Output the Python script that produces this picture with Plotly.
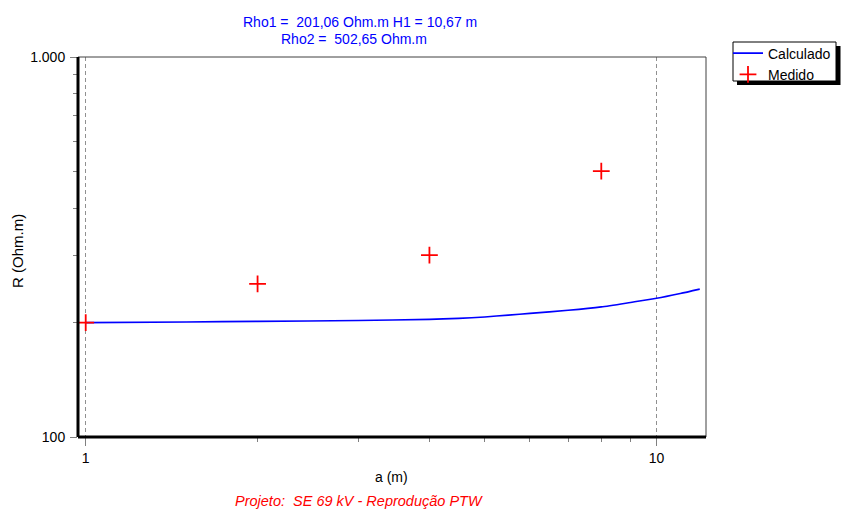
import plotly.graph_objects as go

# ---- data ----
a_calc = [1, 1.5, 2, 3, 4, 4.5, 5, 5.5, 6, 7, 8, 9, 10, 11, 11.9]
r_calc = [200, 200.8, 201.5, 202.5, 204, 205.2, 207, 209.3, 211.5, 215.5, 220, 226, 231.7, 238.5, 245]
a_med = [1, 2, 4, 8]
r_med = [200, 253, 301, 501]
x_tickvals = [1, 10]
x_ticktext = ["1", "10"]
y_tickvals = [100, 1000]
y_ticktext = ["100", "1.000"]
x_minor = [2, 3, 4, 5, 6, 7, 8, 9]
y_minor = [200, 300, 400, 500, 600, 700, 800, 900]

FONT = "Liberation Sans, Arial, sans-serif"
FS = 14

# plot area in pixels
L, R, T, B = 78, 706, 57, 437
W, H = 859, 525
pw, ph = R - L, B - T


def px(x):
    return (x - L) / pw


def py(y):
    return (B - y) / ph


fig = go.Figure()
fig.add_trace(go.Scatter(
    x=a_calc, y=r_calc, mode="lines", name="Calculado",
    line=dict(color="#0000ff", width=1.6, shape="spline", smoothing=0.6),
))
fig.add_trace(go.Scatter(
    x=a_med, y=r_med, mode="markers", name="Medido",
    marker=dict(symbol="cross-thin", size=12, line=dict(color="#ff0000", width=1.8), color="#ff0000"),
))

fig.update_layout(
    width=W, height=H,
    margin=dict(l=L, r=W - R, t=T, b=H - B, pad=0),
    paper_bgcolor="white", plot_bgcolor="white",
    font=dict(family=FONT, size=FS, color="#000000"),
    showlegend=True,
    legend=dict(
        x=px(728), y=py(37.5), xanchor="left", yanchor="top",
        bgcolor="rgba(0,0,0,0)", borderwidth=0,
        font=dict(family=FONT, size=FS, color="#000000"),
        tracegroupgap=0, itemwidth=30,
    ),
    xaxis=dict(
        type="log", range=[-0.0135, 1.0865],
        tickvals=x_tickvals, ticktext=x_ticktext,
        ticks="outside", ticklen=8, tickcolor="#808080", tickwidth=1,
        showgrid=True, gridcolor="#909090", griddash="4px,3px", gridwidth=1,
        showline=False, zeroline=False,
        minor=dict(tickvals=x_minor, ticks="outside", ticklen=4, tickcolor="#808080", showgrid=False),
        tickfont=dict(family=FONT, size=FS, color="#000000"),
    ),
    yaxis=dict(
        type="log", range=[2, 3],
        tickvals=y_tickvals, ticktext=y_ticktext,
        ticks="outside", ticklen=7, tickcolor="#808080", tickwidth=1,
        showgrid=False, showline=False, zeroline=False,
        minor=dict(tickvals=y_minor, ticks="outside", ticklen=4, tickcolor="#808080", showgrid=False),
        tickfont=dict(family=FONT, size=FS, color="#000000"),
        ticklabelstandoff=2,
    ),
)

# frame: thin top/right, thick left/bottom
fig.add_shape(type="line", xref="paper", yref="paper", x0=0, x1=1, y0=1, y1=1,
              line=dict(color="#404040", width=1))
fig.add_shape(type="line", xref="paper", yref="paper", x0=1, x1=1, y0=0, y1=1,
              line=dict(color="#404040", width=1))
fig.add_shape(type="line", xref="paper", yref="paper", x0=0, x1=0, y0=0, y1=1,
              line=dict(color="#000000", width=3))
fig.add_shape(type="line", xref="paper", yref="paper", x0=0, x1=1, y0=0, y1=0,
              line=dict(color="#000000", width=3))

# legend box with shadow
fig.add_shape(type="rect", xref="paper", yref="paper",
              x0=px(737), x1=px(840.5), y0=py(85), y1=py(46),
              fillcolor="#000000", line=dict(width=0), layer="above")
fig.add_shape(type="rect", xref="paper", yref="paper",
              x0=px(733), x1=px(836), y0=py(81), y1=py(42),
              fillcolor="#ffffff", line=dict(color="#000000", width=1), layer="above")

nb = "\u00a0"
fig.add_annotation(
    xref="paper", yref="paper", x=px(240.5), y=py(22), xanchor="left", yanchor="middle",
    text=f"Rho1 ={nb}{nb}201,06 Ohm.m H1 = 10,67 m",
    showarrow=False, font=dict(family=FONT, size=FS, color="#0000ff"),
)
fig.add_annotation(
    xref="paper", yref="paper", x=px(279), y=py(39), xanchor="left", yanchor="middle",
    text=f"Rho2 ={nb}{nb}502,65 Ohm.m",
    showarrow=False, font=dict(family=FONT, size=FS, color="#0000ff"),
)
fig.add_annotation(
    xref="paper", yref="paper", x=px(391), y=py(477), xanchor="center", yanchor="middle",
    text="a (m)", showarrow=False, font=dict(family=FONT, size=FS, color="#000000"),
)
fig.add_annotation(
    xref="paper", yref="paper", x=px(17), y=py(251), xanchor="center", yanchor="middle",
    text="R (Ohm.m)", textangle=-90, showarrow=False,
    font=dict(family=FONT, size=15, color="#000000"),
)
fig.add_annotation(
    xref="paper", yref="paper", x=px(358.5), y=py(501), xanchor="center", yanchor="middle",
    text=f"<i>Projeto:{nb}{nb}SE 69 kV - Reprodução PTW</i>", showarrow=False,
    font=dict(family=FONT, size=14.5, color="#ff0000"),
)

fig.write_html("out.html")
